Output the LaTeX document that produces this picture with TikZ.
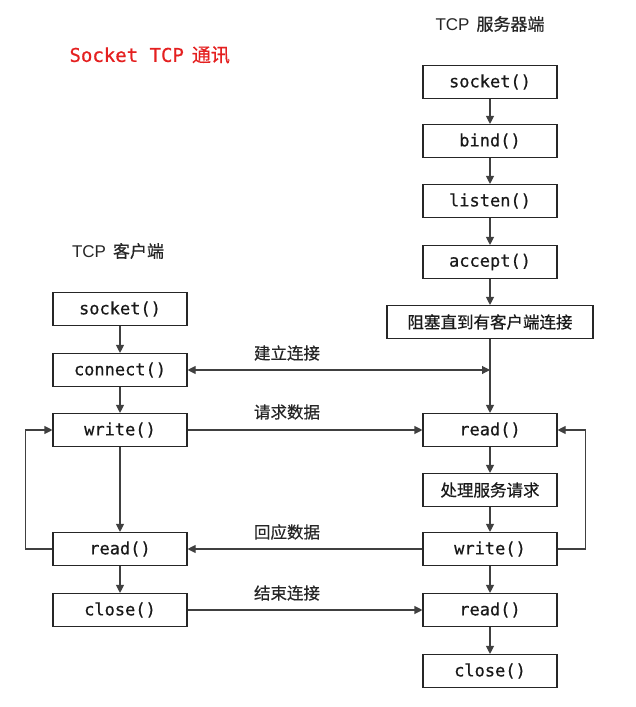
\documentclass[tikz,border=0pt]{standalone}
\usepackage{fontspec}
\setmainfont{Liberation Sans}
\newfontfamily\mono[FakeBold=0.6]{DejaVu Sans Mono}
\newfontfamily\cjk[FakeBold=0.6]{Noto Sans CJK SC}
\newfontfamily\cjklight{Noto Sans CJK SC}
\usetikzlibrary{arrows.meta}
\definecolor{tred}{RGB}{228,32,32}
\begin{document}
\begin{tikzpicture}[x=1pt,y=-1pt,
 box/.style={draw=black!85, line width=1.1pt, minimum width=134pt, minimum height=33pt, inner sep=0pt, font=\mono\fontsize{17}{17}\selectfont, text=black!90},
 cbox/.style={box, font=\cjk\fontsize{16.5}{16.5}\selectfont},
 flow/.style={draw=black!75, line width=1.1pt, -{Triangle[length=8pt,width=8pt]}},
 lbl/.style={font=\cjk\fontsize{16.5}{16.5}\selectfont, text=black!85},
 head/.style={font=\fontsize{17}{17}\selectfont, text=black!85},
]
\useasboundingbox (0,0) rectangle (636,707);
% title and headings
\node[anchor=west, text=tred, font=\fontsize{19}{19}\selectfont] (title) at (66,55) {{\mono Socket TCP}\hspace{8pt}{\cjk 通讯}};
\node[head] (hs) at (490,24) {TCP\hspace{7pt}{\cjk 服务器端}};
\node[head] (hc) at (118,251) {TCP\hspace{7pt}{\cjk 客户端}};
% server column
\node[box] (s1) at (490,82) {socket()};
\node[box] (s2) at (490,141) {bind()};
\node[box] (s3) at (490,201) {listen()};
\node[box] (s4) at (490,262) {accept()};
\node[cbox, minimum width=206pt] (s5) at (490,322) {阻塞直到有客户端连接};
\node[box] (s6) at (490,430) {read()};
\node[cbox] (s7) at (490,490) {处理服务请求};
\node[box] (s8) at (490,549) {write()};
\node[box] (s9) at (490,610) {read()};
\node[box] (s10) at (490,671) {close()};
% client column
\node[box] (c1) at (120,309) {socket()};
\node[box] (c2) at (120,370) {connect()};
\node[box] (c3) at (120,430) {write()};
\node[box] (c4) at (120,549) {read()};
\node[box] (c5) at (120,610) {close()};
% vertical flows
\draw[flow] (s1) -- (s2);
\draw[flow] (s2) -- (s3);
\draw[flow] (s3) -- (s4);
\draw[flow] (s4) -- (s5);
\draw[flow] (s5) -- (s6);
\draw[flow] (s6) -- (s7);
\draw[flow] (s7) -- (s8);
\draw[flow] (s8) -- (s9);
\draw[flow] (s9) -- (s10);
\draw[flow] (c1) -- (c2);
\draw[flow] (c2) -- (c3);
\draw[flow] (c3) -- (c4);
\draw[flow] (c4) -- (c5);
% cross flows
\coordinate (j) at (490,370);
\draw[flow, {Triangle[length=8pt,width=8pt]}-{Triangle[length=8pt,width=8pt]}] (c2.east) -- (j);
\draw[flow] (c3.east) -- (s6.west);
\draw[flow] (s8.west) -- (c4.east);
\draw[flow] (c5.east) -- (s9.west);
% loops
\draw[flow] (c4.west) -- ++(-27,0) |- (c3.west);
\draw[flow] (s8.east) -- ++(28,0) |- (s6.east);
% labels
\node[lbl] (l1) at (287,353) {建立连接};
\node[lbl] (l2) at (287,412) {请求数据};
\node[lbl] (l3) at (287,532) {回应数据};
\node[lbl] (l4) at (287,593) {结束连接};
\end{tikzpicture}
\end{document}
